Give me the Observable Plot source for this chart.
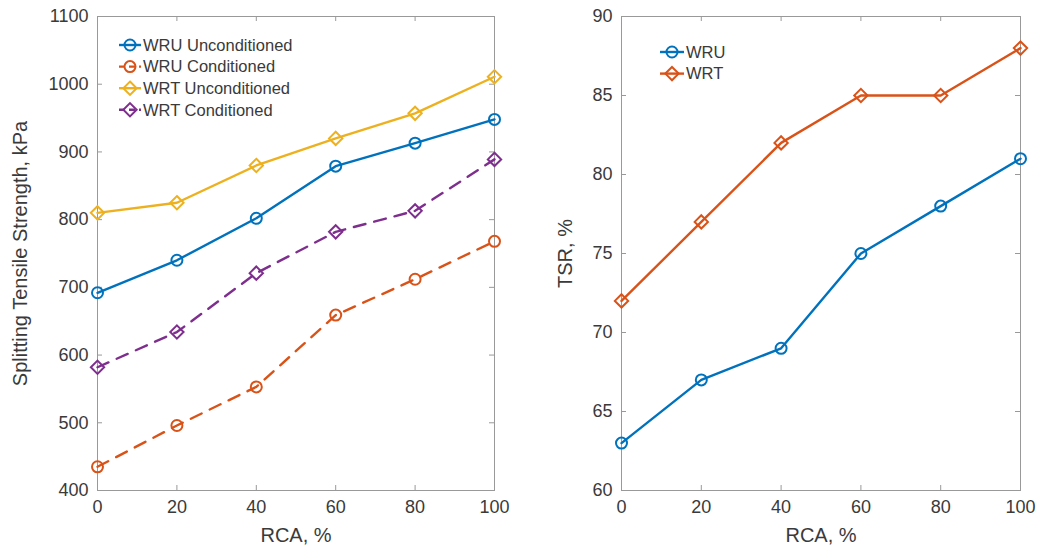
<!DOCTYPE html>
<html>
<head>
<meta charset="utf-8">
<script src="https://cdn.jsdelivr.net/npm/d3@7"></script>
<script src="https://cdn.jsdelivr.net/npm/@observablehq/plot@0.6"></script>
<style>
  html, body { margin: 0; padding: 0; background: #fff; }
  #fig { position: relative; width: 1037px; height: 547px; display: flex; }
  #fig svg { display: block; }
  #legend { position: absolute; left: 0; top: 0; pointer-events: none; }
</style>
</head>
<body>
<div id="fig"></div>
<script>
// RCA replacement levels (%)
const rca = [0, 20, 40, 60, 80, 100];

// Splitting tensile strength (kPa)
const wruUnconditioned = [692, 740, 802, 879, 913, 948];
const wruConditioned   = [435, 496, 553, 659, 712, 768];
const wrtUnconditioned = [810, 825, 880, 920, 957, 1011];
const wrtConditioned   = [582, 634, 721, 782, 813, 889];

// Tensile strength ratio (%)
const tsrWRU = [63, 67, 69, 75, 78, 81];
const tsrWRT = [72, 77, 82, 85, 85, 88];

const xTicks = [0, 20, 40, 60, 80, 100];
const stsTicks = [400, 500, 600, 700, 800, 900, 1000, 1100];
const tsrTicks = [60, 65, 70, 75, 80, 85, 90];

const blue = "#0072BD", orange = "#D95319", yellow = "#EDB120", purple = "#7E2F8E";
const font = "'Liberation Sans', Arial, Helvetica, sans-serif";
const textColor = "#3a3a3a";
const axisColor = "#999";

const stsSeries = [
  {name: "WRU Unconditioned", values: wruUnconditioned, color: blue,   symbol: "circle",   dash: null},
  {name: "WRU Conditioned",   values: wruConditioned,   color: orange, symbol: "circle",   dash: "12,9"},
  {name: "WRT Unconditioned", values: wrtUnconditioned, color: yellow, symbol: "diamond2", dash: null},
  {name: "WRT Conditioned",   values: wrtConditioned,   color: purple, symbol: "diamond2", dash: "12,9"}
];
const tsrSeries = [
  {name: "WRU", values: tsrWRU, color: blue,   symbol: "circle",   dash: null},
  {name: "WRT", values: tsrWRT, color: orange, symbol: "diamond2", dash: null}
];

function seriesMarks(series) {
  const marks = [];
  for (const s of series) {
    const rows = rca.map((x, i) => ({x, y: s.values[i]}));
    marks.push(Plot.line(rows, {x: "x", y: "y", stroke: s.color, strokeWidth: 2.4,
      strokeDasharray: s.dash ?? undefined, strokeLinejoin: "round"}));
    marks.push(Plot.dot(rows, {x: "x", y: "y", stroke: s.color, strokeWidth: 2,
      fill: "none", symbol: s.symbol, r: s.symbol === "circle" ? 5.5 : 6}));
  }
  return marks;
}

function panel({width, marginLeft, marginRight, yDomain, yTicks, yLabel, yLabelDx, series}) {
  const marginTop = 16, marginBottom = 57, height = 547;
  const innerH = height - marginTop - marginBottom;
  const innerW = width - marginLeft - marginRight;
  const tick = 5;
  return Plot.plot({
    width, height, marginLeft, marginRight, marginTop, marginBottom,
    x: {domain: [0, 100]},
    y: {domain: yDomain},
    style: {fontFamily: font, fontSize: "18px", color: textColor, background: "#fff", overflow: "visible"},
    marks: [
      Plot.frame({stroke: axisColor, strokeWidth: 1}),
      // inward ticks on all four sides
      Plot.tickX(xTicks, {x: d => d, insetTop: innerH - tick, stroke: axisColor}),
      Plot.tickX(xTicks, {x: d => d, insetBottom: innerH - tick, stroke: axisColor}),
      Plot.tickY(yTicks, {y: d => d, insetRight: innerW - tick, stroke: axisColor}),
      Plot.tickY(yTicks, {y: d => d, insetLeft: innerW - tick, stroke: axisColor}),
      Plot.axisX({ticks: xTicks, tickSize: 0, tickPadding: 10, label: null, fill: textColor, tickFormat: d => String(d)}),
      Plot.axisY({ticks: yTicks, tickSize: 0, tickPadding: 9, label: null, fill: textColor, tickFormat: d => String(d)}),
      Plot.text(["RCA, %"], {frameAnchor: "bottom", dy: 45, fontSize: 20, fill: textColor,
        textAnchor: "middle", lineAnchor: "middle"}),
      Plot.text([yLabel], {frameAnchor: "left", dx: yLabelDx, rotate: -90, fontSize: 20, fill: textColor,
        textAnchor: "middle", lineAnchor: "middle"}),
      ...seriesMarks(series)
    ]
  });
}

const fig = document.getElementById("fig");
fig.append(panel({
  width: 520, marginLeft: 97, marginRight: 26,
  yDomain: [400, 1100], yTicks: stsTicks,
  yLabel: "Splitting Tensile Strength, kPa", yLabelDx: -77,
  series: stsSeries
}));
fig.append(panel({
  width: 517, marginLeft: 101, marginRight: 17,
  yDomain: [60, 90], yTicks: tsrTicks,
  yLabel: "TSR, %", yLabelDx: -56,
  series: tsrSeries
}));

// In-axes legends (no box), line sample with marker followed by the name
function drawLegend(svg, series, {x0, x1, textX, y0, step}) {
  series.forEach((s, i) => {
    const y = y0 + i * step;
    const g = svg.append("g");
    g.append("line").attr("x1", x0).attr("x2", x1).attr("y1", y).attr("y2", y)
      .attr("stroke", s.color).attr("stroke-width", 2.4)
      .attr("stroke-dasharray", s.dash ? "6,4" : null);
    const sym = s.symbol === "circle"
      ? d3.symbol(d3.symbolCircle, Math.PI * 5.5 * 5.5)
      : d3.symbol(d3.symbolDiamond2, Math.PI * 6 * 6);
    g.append("path").attr("d", sym()).attr("transform", `translate(${(x0 + x1) / 2},${y})`)
      .attr("fill", "none").attr("stroke", s.color).attr("stroke-width", 2);
    g.append("text").attr("x", textX).attr("y", y).attr("dy", "0.35em")
      .attr("font-family", font).attr("font-size", 16.5).attr("fill", textColor)
      .text(s.name);
  });
}

const legend = d3.select(fig).append("svg").attr("id", "legend")
  .attr("width", 1037).attr("height", 547);
drawLegend(legend, stsSeries, {x0: 119, x1: 141, textX: 143, y0: 45, step: 21.6});
drawLegend(legend, tsrSeries, {x0: 660, x1: 684, textX: 686, y0: 52, step: 21.6});
</script>
</body>
</html>
